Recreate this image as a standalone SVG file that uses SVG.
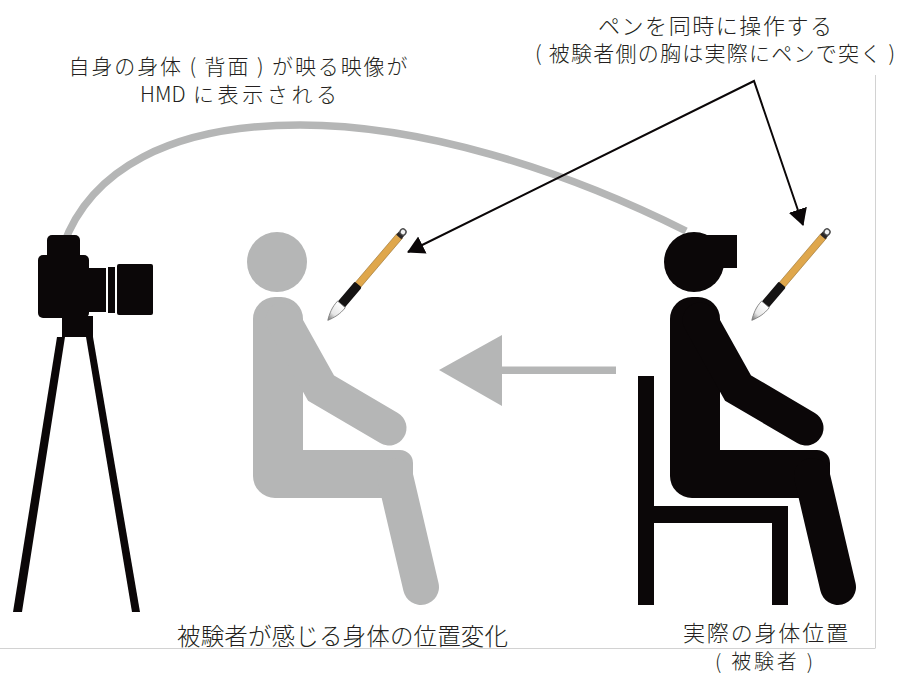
<svg xmlns="http://www.w3.org/2000/svg" xmlns:xlink="http://www.w3.org/1999/xlink" width="912" height="675" viewBox="0 0 912 675">
  <style>
    .label { font-family: "Noto Sans CJK JP", "Noto Sans", sans-serif; font-weight: 300; fill: #231f20; text-anchor: middle; }
    .label-start { font-family: "Noto Sans CJK JP", "Noto Sans", sans-serif; font-weight: 300; fill: #231f20; text-anchor: start; }
    .frame { stroke: #d2d2d2; stroke-width: 1; fill: none; }
    .ink { fill: #0b0708; }
    .cable { fill: none; stroke: #b5b6b6; stroke-width: 7.5; }
    .pointer { fill: none; stroke: #0b0708; stroke-width: 2; }
  </style>
  <defs>
    <marker id="head" viewBox="0 -10 17 20" markerWidth="17" markerHeight="20" refX="16" refY="0" orient="auto-start-reverse" markerUnits="userSpaceOnUse">
      <path d="M0,-9.5 L17,0 L0,9.5 Z" fill="#0b0708"/>
    </marker>
    <linearGradient id="tipShade" x1="0" y1="0" x2="1" y2="0">
      <stop offset="0" stop-color="#ffffff"/>
      <stop offset="0.6" stop-color="#e6e6e6"/>
      <stop offset="1" stop-color="#6a6a6a"/>
    </linearGradient>
    <!-- seated pictogram, drawn in currentColor -->
    <g id="sitter" fill="currentColor" stroke="currentColor">
      <circle cx="277" cy="262" r="30" stroke="none"/>
      <path stroke="none" d="M253,319 a22,22 0 0 1 22,-22 h6 a22,22 0 0 1 22,22 V450 H400 a13,13 0 0 1 13,13 V498 H275 a22,22 0 0 1 -22,-22 Z"/>
      <line x1="395" y1="476" x2="421" y2="587" stroke-width="36" stroke-linecap="round"/>
      <polyline points="283,320 321,388 389,428" fill="none" stroke-width="35" stroke-linejoin="miter" stroke-linecap="round"/>
    </g>
    <!-- calligraphy brush along +x, ring end at origin -->
    <g id="brush">
      <rect x="5" y="-3.6" width="65" height="7.2" fill="#dfa74c" stroke="#9a7434" stroke-width="0.6"/>
      <rect x="2" y="-3.4" width="4.5" height="6.8" fill="#2a2626"/>
      <circle cx="0" cy="0" r="3" fill="#f2f2f2" stroke="#4a4a4a" stroke-width="1.4"/>
      <rect x="69" y="-4.6" width="27" height="9.2" rx="1.5" fill="#151313"/>
      <path d="M95,-5 C103,-5.6 110,-3 116,0 C110,3 103,5.6 95,5 Z" fill="url(#tipShade)" stroke="#7a7a7a" stroke-width="0.8"/>
    </g>
  </defs>

  <!-- border lines -->
  <line class="frame" x1="875.5" y1="75" x2="875.5" y2="648"/>
  <line class="frame" x1="0" y1="648.5" x2="875.5" y2="648.5"/>

  <!-- connectors -->
  <g id="connectors">
    <path id="video-cable" class="cable" d="M63,246 C90,170 170,125 300,125 C420,125 560,168 686,231"/>
    <path id="pen-pointer" class="pointer" d="M408,252 L754,81 L803,225" marker-start="url(#head)" marker-end="url(#head)"/>
    <g id="shift-arrow" fill="#b5b6b6">
      <polygon points="439,370 502,335 502,406"/>
      <rect x="500" y="366.5" width="116" height="7.5"/>
    </g>
  </g>

  <!-- camera on tripod -->
  <g id="camera" class="ink">
    <rect x="47" y="235" width="33" height="28" rx="5"/>
    <rect x="38" y="255" width="51" height="63" rx="5"/>
    <rect x="88" y="268" width="18" height="44"/>
    <rect x="108" y="267" width="7" height="46"/>
    <rect x="117" y="264" width="36" height="51" rx="2"/>
    <rect x="62" y="316" width="31" height="21"/>
    <polygon points="57,337 65,337 22,612 13,612"/>
    <polygon points="86,337 93,337 140,612 132,612"/>
  </g>

  <!-- perceived body position -->
  <g id="perceived-body">
    <use xlink:href="#sitter" href="#sitter" color="#b5b6b6"/>
    <use xlink:href="#brush" href="#brush" transform="translate(403,232) rotate(130.4)"/>
  </g>

  <!-- actual subject on chair -->
  <g id="subject">
    <g id="chair" class="ink">
      <rect x="638" y="376" width="16" height="229"/>
      <rect x="638" y="506" width="150" height="17"/>
      <rect x="772" y="506" width="16" height="99"/>
    </g>
    <use xlink:href="#sitter" href="#sitter" transform="translate(417,0)" color="#0b0708"/>
    <rect id="hmd" class="ink" x="694" y="235" width="43" height="33"/>
    <use xlink:href="#brush" href="#brush" transform="translate(827,232) rotate(130.4)"/>
  </g>

  <!-- labels -->
  <g id="label-hmd">
    <text class="label" x="238" y="74" font-size="21" textLength="339" lengthAdjust="spacing">自身の身体 ( 背面 ) が映る映像が</text>
    <text class="label-start" x="140" y="102" font-size="21">HMD</text>
    <text class="label-start" x="193" y="102" font-size="21" textLength="144" lengthAdjust="spacing">に表示される</text>
  </g>
  <g id="label-pen">
    <text class="label" x="715" y="34" font-size="22" textLength="234" lengthAdjust="spacing">ペンを同時に操作する</text>
    <text class="label" x="715" y="61" font-size="21" textLength="360" lengthAdjust="spacing">( 被験者側の胸は実際にペンで突く )</text>
  </g>
  <g id="label-perceived">
    <text class="label" x="342.5" y="645" font-size="23.5" textLength="331" lengthAdjust="spacing">被験者が感じる身体の位置変化</text>
  </g>
  <g id="label-actual">
    <text class="label" x="765.5" y="641" font-size="22" textLength="165" lengthAdjust="spacing">実際の身体位置</text>
    <text class="label" x="764" y="669" font-size="20" textLength="98" lengthAdjust="spacing">( 被験者 )</text>
  </g>
</svg>
